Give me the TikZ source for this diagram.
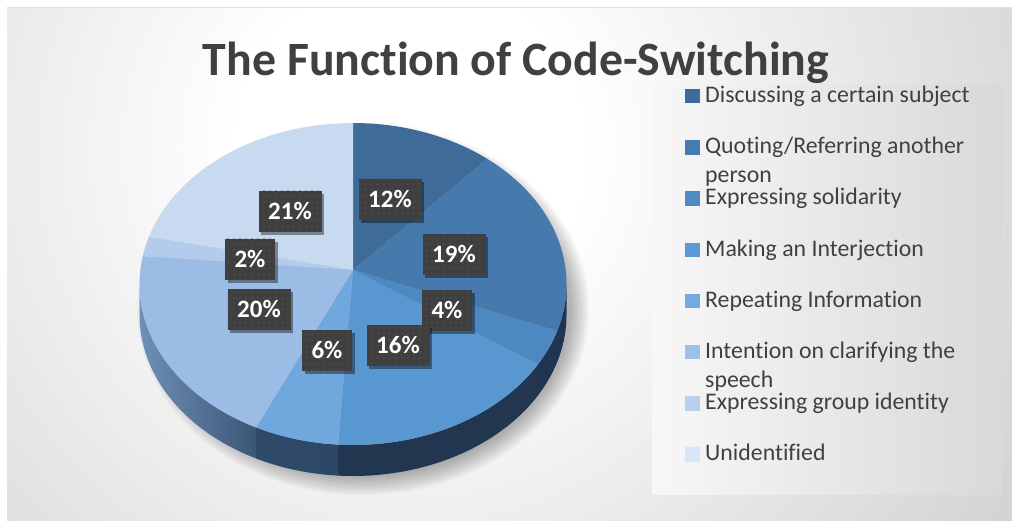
\documentclass[tikz,border=0pt]{standalone}
\usepackage{fontspec}
\setmainfont{Carlito}[Ligatures={NoCommon,NoRequired,NoContextual}]
\usetikzlibrary{shadows,patterns}
\definecolor{bgg}{HTML}{C4C4C4}
\definecolor{bgm}{HTML}{D4D4D4}
\definecolor{cA}{HTML}{3E6B98}
\definecolor{cB}{HTML}{467AAD}
\definecolor{cC}{HTML}{4D88C1}
\definecolor{cD}{HTML}{5997D1}
\definecolor{cE}{HTML}{70A7DD}
\definecolor{cF}{HTML}{9BBDE5}
\definecolor{cG}{HTML}{B4CCEB}
\definecolor{cH}{HTML}{C8DAF0}
\definecolor{lA}{HTML}{3E6C9A}
\definecolor{lB}{HTML}{457BB0}
\definecolor{lC}{HTML}{4F8AC4}
\definecolor{lD}{HTML}{5B9BD5}
\definecolor{lE}{HTML}{74AAE0}
\definecolor{lF}{HTML}{9DC0E8}
\definecolor{lG}{HTML}{B7D0EE}
\definecolor{lH}{HTML}{D6E5F7}
\definecolor{sideR}{HTML}{1F3551}
\definecolor{sideF}{HTML}{22374F}
\definecolor{sideM}{HTML}{2D4767}
\definecolor{sideL}{HTML}{6F8FB6}
\definecolor{sideLd}{HTML}{3B5777}
\definecolor{txtgray}{HTML}{404040}
\definecolor{boxgray}{HTML}{3F3F3F}
\definecolor{dotgray}{HTML}{555555}
\pgfdeclareradialshading{bgglow}{\pgfpoint{0bp}{0bp}}{color(0bp)=(white); color(6bp)=(white); color(24bp)=(bgm); color(50bp)=(bgg)}
\pgfdeclarepatternformonly{sparsedots}{\pgfpoint{-1pt}{-1pt}}{\pgfpoint{1pt}{1pt}}{\pgfpoint{6pt}{6pt}}{\pgfpathcircle{\pgfpoint{0pt}{0pt}}{0.8pt}\pgfusepath{fill}}
\newcommand\topslice[3]{\fill[#3] (353,270) -- plot[domain=#1:#2, samples=60, variable=\t] ({353+213.5*cos(\t)}, {284-161*sin(\t)}) -- cycle;}
\newcommand\sideband[3]{\path[#3] plot[domain=#1:#2, samples=40, variable=\t] ({353+213.5*cos(\t)}, {284-161*sin(\t)}) -- plot[domain=#2:#1, samples=40, variable=\t] ({353+213.5*cos(\t)}, {315-161*sin(\t)}) -- cycle;}
\tikzset{
  pct/.style={fill=boxgray, text=white, font=\fontsize{25}{30}\selectfont\bfseries, minimum height=41pt, inner sep=0pt,
    drop shadow={shadow xshift=2.5pt, shadow yshift=-3pt, opacity=0.4, fill=black},
    postaction={pattern=sparsedots, pattern color=dotgray}},
  wide/.style={minimum width=63pt},
  narrow/.style={minimum width=50pt},
  legtext/.style={anchor=base west, inner sep=0pt, text=txtgray, font=\fontsize{23.8}{29}\selectfont},
  legsq/.style={minimum size=14.5pt, inner sep=0pt}
}
\begin{document}
\begin{tikzpicture}[x=1pt,y=-1pt]
\useasboundingbox (0,0) rectangle (1012,520);
\fill[white] (0,0) rectangle (1012,520);
% background panel
\begin{scope}
\clip (7,7) rectangle (1012,520);
\fill[bgg] (7,7) rectangle (1012,520);
\shade[shading=bgglow] (410,150) circle (720);
\end{scope}
\draw[black!12, line width=1pt] (7,7.5) -- (1012,7.5);
% pie shadow
\foreach \k in {0,2,...,18}{
  \fill[black, opacity=0.03] (363,309) ellipse ({208+\k} and {168+\k});
}
% sides
\sideband{0}{-17}{fill=sideR}
\sideband{-17}{-30}{fill=sideR}
\sideband{-30}{-94}{fill=sideF}
\sideband{-94}{-117}{left color=sideM!85!sideLd, right color=sideM}
\sideband{-117}{-180}{left color=sideL, right color=sideLd}
% top faces
\topslice{90}{51}{cA}
\topslice{51}{-17}{cB}
\topslice{-17}{-30}{cC}
\topslice{-30}{-94}{cD}
\topslice{-94}{-117}{cE}
\topslice{-117}{-190}{cF}
\topslice{170}{163}{cG}
\topslice{163}{90}{cH}
% percentage labels
\node[pct, wide]   (p12) at (390,199) {12\%};
\node[pct, wide]   (p21) at (290,211) {21\%};
\node[pct, wide]   (p19) at (454,254) {19\%};
\node[pct, narrow] (p2)  at (250,259) {2\%};
\node[pct, wide]   (p20) at (259,309) {20\%};
\node[pct, narrow] (p4)  at (447,310) {4\%};
\node[pct, narrow] (p6)  at (327,350) {6\%};
\node[pct, wide]   (p16) at (398,345) {16\%};
% legend panel
\shade[left color=white!97!black, right color=black!15] (652,84) rectangle (1002,494);
\node[legsq, fill=lA] (s1) at (692.5,96)    {};
\node[legsq, fill=lB] (s2) at (692.5,147.4) {};
\node[legsq, fill=lC] (s3) at (692.5,198.6) {};
\node[legsq, fill=lD] (s4) at (692.5,249.8) {};
\node[legsq, fill=lE] (s5) at (692.5,301)   {};
\node[legsq, fill=lF] (s6) at (692.5,352.2) {};
\node[legsq, fill=lG] (s7) at (692.5,403.4) {};
\node[legsq, fill=lH] (s8) at (692.5,454.6) {};
\node[legtext] (t1)  at (705,102.5) {Discussing a certain subject};
\node[legtext] (t2)  at (705,153.7) {Quoting/Referring another};
\node[legtext] (t2b) at (705,182.7) {person};
\node[legtext] (t3)  at (705,204.9) {Expressing solidarity};
\node[legtext] (t4)  at (705,256.1) {Making an Interjection};
\node[legtext] (t5)  at (705,307.3) {Repeating Information};
\node[legtext] (t6)  at (705,358.5) {Intention on clarifying the};
\node[legtext] (t6b) at (705,387.5) {speech};
\node[legtext] (t7)  at (705,409.7) {Expressing group identity};
\node[legtext] (t8)  at (705,460.9) {Unidentified};
% title
\node[anchor=base, inner sep=0pt, text=txtgray, font=\fontsize{47.8}{56}\selectfont\bfseries] (title) at (516,75) {The Function of Code-Switching};
\end{tikzpicture}
\end{document}
